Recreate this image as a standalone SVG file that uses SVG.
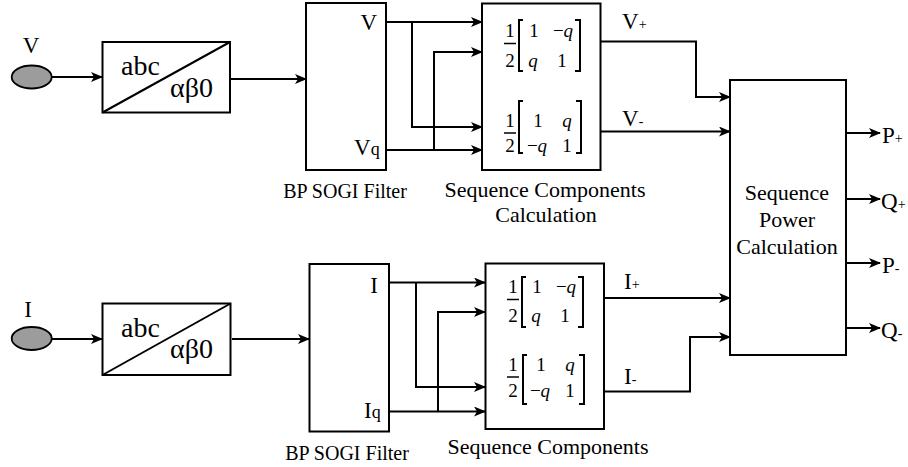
<svg xmlns="http://www.w3.org/2000/svg" width="908" height="467" viewBox="0 0 908 467">
<style>
  .box{fill:#fff;stroke:#000;stroke-width:2}
  .src{fill:#9c9c9c;stroke:#000;stroke-width:1.8}
  .w{fill:none;stroke:#000;stroke-width:2}
  .a{fill:none;stroke:#000;stroke-width:2;marker-end:url(#ah)}
  .t{font-family:"Liberation Serif","Times New Roman",serif;fill:#000}
  .lbl{font-size:23px}
  .pw{font-size:22px}
  .cap{font-size:20px}
  .seq{font-size:22px}
  .big{font-size:28px}
  .m{font-family:"Liberation Serif","DejaVu Serif",serif;font-size:19px;fill:#000}
  .q{font-style:italic}
  .sub{font-size:14px}
</style>
<defs>
  <marker id="ah" markerWidth="12" markerHeight="10" refX="11" refY="5" orient="auto" markerUnits="userSpaceOnUse">
    <path d="M0,0 L12,5 L0,10 L3,5 Z" fill="#000"/>
  </marker>
</defs>

<g id="connectors">
  <path class="a" d="M52,77 H102"/>
  <path class="a" d="M230,79 H306"/>
  <path class="a" d="M386,22 H482"/>
  <path class="a" d="M412,22 V127 H482"/>
  <path class="a" d="M386,150 H482"/>
  <path class="a" d="M434,150 V52 H482"/>
  <path class="a" d="M600,41.5 H696 V97 H730"/>
  <path class="a" d="M600,131.5 H730"/>
  <path class="a" d="M846,133 H880"/>
  <path class="a" d="M846,199 H880"/>
  <path class="a" d="M846,263 H880"/>
  <path class="a" d="M846,328 H880"/>

  <path class="a" d="M52,339 H102"/>
  <path class="a" d="M232,339 H309"/>
  <path class="a" d="M389,282.5 H485"/>
  <path class="a" d="M416,282.5 V387 H485"/>
  <path class="a" d="M389,411.5 H485"/>
  <path class="a" d="M438,411.5 V312 H485"/>
  <path class="a" d="M604,298 H730"/>
  <path class="a" d="M604,391.5 H690 V337 H730"/>
</g>

<g id="src-V">
  <ellipse class="src" cx="31.7" cy="77" rx="20" ry="11.5"/>
  <text class="t lbl" x="31" y="53" text-anchor="middle">V</text>
</g>
<g id="src-I">
  <ellipse class="src" cx="31.7" cy="338.5" rx="20" ry="11.5"/>
  <text class="t lbl" x="28" y="316.5" text-anchor="middle">I</text>
</g>

<g id="abc-top">
  <rect class="box" x="102.5" y="42" width="127.5" height="70.5"/>
  <path class="w" d="M102.5,112.5 L230,42"/>
  <text class="t big" x="121" y="75">abc</text>
  <text class="t big" x="170" y="97">αβ0</text>
</g>
<g id="abc-bot">
  <rect class="box" x="102.5" y="303.5" width="128" height="71.5"/>
  <path class="w" d="M102.5,375 L230.5,303.5"/>
  <text class="t big" x="121" y="336.5">abc</text>
  <text class="t big" x="170" y="358">αβ0</text>
</g>

<g id="sogi-top">
  <rect class="box" x="306" y="3" width="80" height="167"/>
  <text class="t lbl" x="377" y="30" text-anchor="end">V</text>
  <text class="t lbl" x="354" y="155">V<tspan font-size="18px">q</tspan></text>
  <text class="t cap" x="345" y="198" text-anchor="middle">BP SOGI Filter</text>
</g>
<g id="sogi-bot">
  <rect class="box" x="309.5" y="264" width="79.5" height="167.5"/>
  <text class="t lbl" x="378" y="292.5" text-anchor="end">I</text>
  <text class="t lbl" x="364" y="418">I<tspan font-size="18px">q</tspan></text>
  <text class="t cap" x="347" y="460" text-anchor="middle">BP SOGI Filter</text>
</g>

<g id="seq-top">
  <rect class="box" x="482" y="3.5" width="118.5" height="166.5"/>
  <text class="m" x="510" y="37" text-anchor="middle">1</text>
  <path d="M504,43.5 H516" stroke="#000" stroke-width="1.5"/>
  <text class="m" x="510" y="67" text-anchor="middle">2</text>
  <path class="w" stroke-width="1.3" d="M523,20 H519 V71 H523"/>
  <text class="m" x="534" y="37" text-anchor="middle">1</text>
  <text class="m" x="563" y="37" text-anchor="middle">−<tspan class="q">q</tspan></text>
  <text class="m q" x="533" y="67" text-anchor="middle">q</text>
  <text class="m" x="562" y="67" text-anchor="middle">1</text>
  <path class="w" stroke-width="1.3" d="M575,20 H580 V71 H575"/>

  <text class="m" x="510" y="127" text-anchor="middle">1</text>
  <path d="M504,133 H516" stroke="#000" stroke-width="1.5"/>
  <text class="m" x="510" y="152" text-anchor="middle">2</text>
  <path class="w" stroke-width="1.3" d="M523,101 H519 V153 H523"/>
  <text class="m" x="538" y="127" text-anchor="middle">1</text>
  <text class="m q" x="567" y="127" text-anchor="middle">q</text>
  <text class="m" x="537" y="152" text-anchor="middle">−<tspan class="q">q</tspan></text>
  <text class="m" x="567" y="152" text-anchor="middle">1</text>
  <path class="w" stroke-width="1.3" d="M576,101 H581 V153 H576"/>

  <text class="t seq" x="545" y="197" text-anchor="middle">Sequence Components</text>
  <text class="t seq" x="546" y="222" text-anchor="middle">Calculation</text>
</g>

<g id="seq-bot">
  <rect class="box" x="485.5" y="263.5" width="118.5" height="165.5"/>
  <text class="m" x="513" y="293" text-anchor="middle">1</text>
  <path d="M507,299.5 H519" stroke="#000" stroke-width="1.5"/>
  <text class="m" x="513" y="322" text-anchor="middle">2</text>
  <path class="w" stroke-width="1.3" d="M526,277 H522 V327 H526"/>
  <text class="m" x="537" y="293" text-anchor="middle">1</text>
  <text class="m" x="566" y="293" text-anchor="middle">−<tspan class="q">q</tspan></text>
  <text class="m q" x="536" y="322" text-anchor="middle">q</text>
  <text class="m" x="565" y="322" text-anchor="middle">1</text>
  <path class="w" stroke-width="1.3" d="M578,277 H583 V327 H578"/>

  <text class="m" x="513" y="371" text-anchor="middle">1</text>
  <path d="M507,377 H519" stroke="#000" stroke-width="1.5"/>
  <text class="m" x="513" y="397" text-anchor="middle">2</text>
  <path class="w" stroke-width="1.3" d="M527,355 H523 V404 H527"/>
  <text class="m" x="541" y="371" text-anchor="middle">1</text>
  <text class="m q" x="570" y="371" text-anchor="middle">q</text>
  <text class="m" x="540" y="397" text-anchor="middle">−<tspan class="q">q</tspan></text>
  <text class="m" x="570" y="397" text-anchor="middle">1</text>
  <path class="w" stroke-width="1.3" d="M579,355 H584 V404 H579"/>

  <text class="t seq" x="548" y="454" text-anchor="middle">Sequence Components</text>
</g>

<g id="power">
  <rect class="box" x="730" y="80" width="116" height="275"/>
  <text class="t pw" x="787" y="200" text-anchor="middle">Sequence</text>
  <text class="t pw" x="787" y="227" text-anchor="middle">Power</text>
  <text class="t pw" x="787" y="254" text-anchor="middle">Calculation</text>
</g>

<g id="labels">
  <text class="t lbl" x="622" y="29">V<tspan class="sub">+</tspan></text>
  <text class="t lbl" x="622" y="126">V<tspan class="sub">-</tspan></text>
  <text class="t lbl" x="624" y="289">I<tspan class="sub">+</tspan></text>
  <text class="t lbl" x="624" y="384">I<tspan class="sub">-</tspan></text>
  <text class="t lbl" x="882" y="143">P<tspan class="sub">+</tspan></text>
  <text class="t lbl" x="881" y="209">Q<tspan class="sub">+</tspan></text>
  <text class="t lbl" x="882" y="273">P<tspan class="sub">-</tspan></text>
  <text class="t lbl" x="881" y="338">Q<tspan class="sub">-</tspan></text>
</g>
</svg>
